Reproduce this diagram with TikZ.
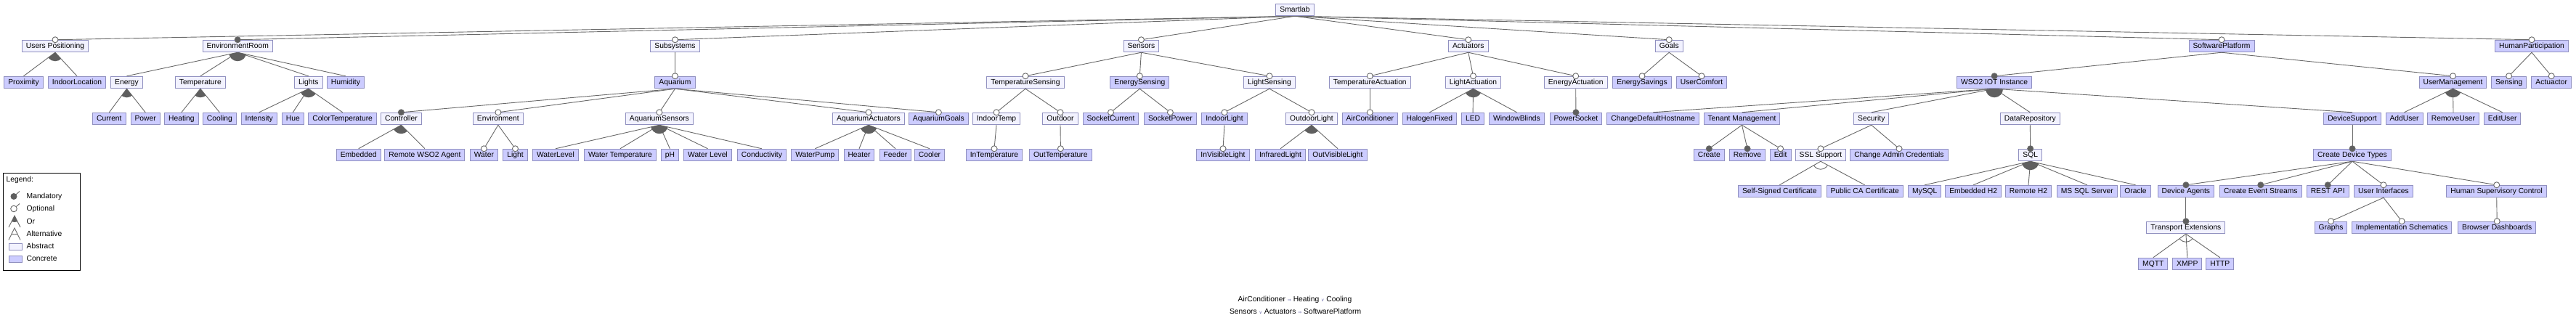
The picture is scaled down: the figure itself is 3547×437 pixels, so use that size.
\documentclass[tikz,border=0pt]{standalone}
\usepackage{fontspec}
\setmainfont{Liberation Sans}
\newfontfamily\symfont{DejaVu Sans}
\usepackage{tikz}
\usetikzlibrary{backgrounds}
\definecolor{fmconcrete}{RGB}{204,204,255}
\definecolor{fmabstract}{RGB}{242,242,255}
\definecolor{fmborder}{RGB}{144,144,192}
\definecolor{fmgray}{RGB}{105,105,105}
\definecolor{fmdark}{RGB}{95,95,95}
\definecolor{fmsym}{RGB}{110,110,170}

% feature model connectors
\newcommand{\fmline}[2]{\begin{pgfonlayer}{background}\draw[fm line] (#1.south) -- (#2.north);\end{pgfonlayer}}
\newcommand{\optlink}[2]{\fmline{#1}{#2}\filldraw[fm line, fill=white] (#2.north) circle (4pt);}
\newcommand{\mandlink}[2]{\fmline{#1}{#2}\filldraw[fm line, fill=fmdark] (#2.north) circle (4pt);}
\newcommand{\orgroup}[3]{\begin{pgfonlayer}{background}\begin{scope}
  \clip (#1.south) -- (#2.north) -- (#3.north) -- cycle;
  \fill[fmdark] (#1.south) circle (12pt);\end{scope}\end{pgfonlayer}}
\newcommand{\altgroup}[3]{\begin{pgfonlayer}{background}\begin{scope}
  \clip (#1.south) -- (#2.north) -- (#3.north) -- cycle;
  \draw[fm line] (#1.south) circle (11pt);\end{scope}\end{pgfonlayer}}
\newcommand{\fmimp}{{\symfont\fontsize{6}{6}\selectfont\textcolor{fmsym}{⇒}}}
\newcommand{\fmvee}{{\symfont\fontsize{6}{6}\selectfont\textcolor{fmsym}{∨}}}

\begin{document}
\begin{tikzpicture}[x=1pt, y=-1pt,
  feature/.style={draw=fmborder, line width=1pt, font=\fontsize{10.3}{12}\selectfont,
    minimum height=16.5pt, inner xsep=5.5pt, inner ysep=0pt, text height=7.6pt, text depth=2.2pt},
  abstract feature/.style={feature, fill=fmabstract},
  concrete feature/.style={feature, fill=fmconcrete},
  fm line/.style={draw=fmgray, line width=0.9pt},
  legend text/.style={font=\fontsize{10.3}{12}\selectfont, anchor=west, inner sep=0pt},
]
\begin{pgfonlayer}{background}
  \fill[white] (0,0) rectangle (3547,437);
\end{pgfonlayer}
\useasboundingbox (0,0) rectangle (3547,437);

% Root
\node[abstract feature] (root) at (1783,13.5) {Smartlab};

% Level 1
\node[abstract feature] (usrpos)    at (76,63.5)     {Users Positioning};
\node[abstract feature] (envroom)   at (327.2,63.5)  {EnvironmentRoom};
\node[abstract feature] (subsys)    at (929.5,63.5)  {Subsystems};
\node[abstract feature] (sensors)   at (1571.4,63.5) {Sensors};
\node[abstract feature] (actuators) at (2021.8,63.5) {Actuators};
\node[abstract feature] (goals)     at (2298.2,63.5) {Goals};
\node[concrete feature] (swplat)    at (3059,63.5)   {SoftwarePlatform};
\node[concrete feature] (humpart)   at (3486,63.5)   {HumanParticipation};

% Level 2
\node[concrete feature] (prox)      at (32.5,113.5)   {Proximity};
\node[concrete feature] (indloc)    at (106,113.5)    {IndoorLocation};
\node[abstract feature] (energy)    at (174.5,113.5)  {Energy};
\node[abstract feature] (temp)      at (275.9,113.5)  {Temperature};
\node[abstract feature] (lights)    at (424.8,113.5)  {Lights};
\node[concrete feature] (humid)     at (475.9,113.5)  {Humidity};
\node[concrete feature] (aquarium)  at (929.5,113.5)  {Aquarium};
\node[abstract feature] (tsens)     at (1412,113.5)   {TemperatureSensing};
\node[concrete feature] (esens)     at (1569.3,113.5) {EnergySensing};
\node[abstract feature] (lsens)     at (1748,113.5)   {LightSensing};
\node[abstract feature] (tact)      at (1886.3,113.5) {TemperatureActuation};
\node[abstract feature] (lact)      at (2028.5,113.5) {LightActuation};
\node[abstract feature] (eact)      at (2169.7,113.5) {EnergyActuation};
\node[concrete feature] (esave)     at (2261,113.5)   {EnergySavings};
\node[concrete feature] (ucomf)     at (2343,113.5)   {UserComfort};
\node[concrete feature] (wso2)      at (2746.1,113.5) {WSO2 IOT Instance};
\node[concrete feature] (usermgmt)  at (3377.5,113.5) {UserManagement};
\node[concrete feature] (sensing)   at (3454.6,113.5) {Sensing};
\node[concrete feature] (actuactor) at (3513.2,113.5) {Actuactor};

% Level 3
\node[concrete feature] (current)    at (150.4,163.5)  {Current};
\node[concrete feature] (power)      at (200.2,163.5)  {Power};
\node[concrete feature] (heating)    at (249.9,163.5)  {Heating};
\node[concrete feature] (cooling)    at (302.3,163.5)  {Cooling};
\node[concrete feature] (intensity)  at (356.7,163.5)  {Intensity};
\node[concrete feature] (hue)        at (403.3,163.5)  {Hue};
\node[concrete feature] (colortemp)  at (471.7,163.5)  {ColorTemperature};
\node[abstract feature] (controller) at (552.4,163.5)  {Controller};
\node[abstract feature] (environ)    at (685.9,163.5)  {Environment};
\node[abstract feature] (aqsens)     at (907.9,163.5)  {AquariumSensors};
\node[abstract feature] (aqact)      at (1196,163.5)   {AquariumActuators};
\node[concrete feature] (aqgoals)    at (1292.4,163.5) {AquariumGoals};
\node[abstract feature] (indtemp)    at (1372,163.5)   {IndoorTemp};
\node[abstract feature] (outdoor)    at (1460,163.5)   {Outdoor};
\node[concrete feature] (sockcur)    at (1529.5,163.5) {SocketCurrent};
\node[concrete feature] (sockpow)    at (1611.4,163.5) {SocketPower};
\node[concrete feature] (indlight)   at (1686,163.5)   {IndoorLight};
\node[abstract feature] (outlight)   at (1806,163.5)   {OutdoorLight};
\node[concrete feature] (aircon)     at (1886.3,163.5) {AirConditioner};
\node[concrete feature] (halogen)    at (1968.4,163.5) {HalogenFixed};
\node[concrete feature] (led)        at (2028.1,163.5) {LED};
\node[concrete feature] (blinds)     at (2088.5,163.5) {WindowBlinds};
\node[concrete feature] (psocket)    at (2169.9,163.5) {PowerSocket};
\node[concrete feature] (hostname)   at (2276.2,163.5) {ChangeDefaultHostname};
\node[concrete feature] (tenant)     at (2398.5,163.5) {Tenant Management};
\node[abstract feature] (security)   at (2576.8,163.5) {Security};
\node[abstract feature] (datarepo)   at (2795.3,163.5) {DataRepository};
\node[concrete feature] (devsup)     at (3239,163.5)   {DeviceSupport};
\node[concrete feature] (adduser)    at (3310.5,163.5) {AddUser};
\node[concrete feature] (rmuser)     at (3378,163.5)   {RemoveUser};
\node[concrete feature] (edituser)   at (3445.7,163.5) {EditUser};

% Level 4
\node[concrete feature] (embedded)  at (493.7,213.5)  {Embedded};
\node[concrete feature] (remagent)  at (584.9,213.5)  {Remote WSO2 Agent};
\node[concrete feature] (water)     at (666.4,213.5)  {Water};
\node[concrete feature] (light)     at (709.5,213.5)  {Light};
\node[concrete feature] (wlevel)    at (765,213.5)    {WaterLevel};
\node[concrete feature] (wtemp)     at (853.9,213.5)  {Water Temperature};
\node[concrete feature] (ph)        at (922.4,213.5)  {pH};
\node[concrete feature] (wlevel2)   at (974.5,213.5)  {Water Level};
\node[concrete feature] (conduct)   at (1048.9,213.5) {Conductivity};
\node[concrete feature] (wpump)     at (1122.3,213.5) {WaterPump};
\node[concrete feature] (heater)    at (1183,213.5)   {Heater};
\node[concrete feature] (feeder)    at (1233,213.5)   {Feeder};
\node[concrete feature] (cooler)    at (1280,213.5)   {Cooler};
\node[concrete feature] (intemp)    at (1369,213.5)   {InTemperature};
\node[concrete feature] (outtemp)   at (1460.4,213.5) {OutTemperature};
\node[concrete feature] (invis)     at (1684,213.5)   {InVisibleLight};
\node[concrete feature] (infra)     at (1763,213.5)   {InfraredLight};
\node[concrete feature] (outvis)    at (1842,213.5)   {OutVisibleLight};
\node[concrete feature] (create)    at (2353.3,213.5) {Create};
\node[concrete feature] (remove)    at (2406,213.5)   {Remove};
\node[concrete feature] (edit)      at (2451.6,213.5) {Edit};
\node[abstract feature] (ssl)       at (2506.9,213.5) {SSL Support};
\node[concrete feature] (admincred) at (2615,213.5)   {Change Admin Credentials};
\node[abstract feature] (sql)       at (2795.7,213.5) {SQL};
\node[concrete feature] (cdt)       at (3239,213.5)   {Create Device Types};

% Level 5
\node[concrete feature] (selfsigned) at (2450.3,263.5) {Self-Signed Certificate};
\node[concrete feature] (publicca)   at (2567.7,263.5) {Public CA Certificate};
\node[concrete feature] (mysql)      at (2650.2,263.5) {MySQL};
\node[concrete feature] (h2emb)      at (2717.2,263.5) {Embedded H2};
\node[concrete feature] (h2rem)      at (2793,263.5)   {Remote H2};
\node[concrete feature] (mssql)      at (2873.8,263.5) {MS SQL Server};
\node[concrete feature] (oracle)     at (2940.5,263.5) {Oracle};
\node[concrete feature] (devagents)  at (3009.9,263.5) {Device Agents};
\node[concrete feature] (evstreams)  at (3112.8,263.5) {Create Event Streams};
\node[concrete feature] (restapi)    at (3205.2,263.5) {REST API};
\node[concrete feature] (uis)        at (3281.9,263.5) {User Interfaces};
\node[concrete feature] (hsc)        at (3437.7,263.5) {Human Supervisory Control};

% Level 6 and 7
\node[abstract feature] (transport) at (3009.9,313.5) {Transport Extensions};
\node[concrete feature] (graphs)    at (3209.5,313.5) {Graphs};
\node[concrete feature] (implsch)   at (3307.1,313.5) {Implementation Schematics};
\node[concrete feature] (browser)   at (3438.2,313.5) {Browser Dashboards};
\node[concrete feature] (mqtt)      at (2964.8,363.5) {MQTT};
\node[concrete feature] (xmpp)      at (3011.8,363.5) {XMPP};
\node[concrete feature] (http)      at (3056.8,363.5) {HTTP};

% Tree edges
\optlink{root}{usrpos} \mandlink{root}{envroom}
\foreach \ch in {subsys,sensors,actuators,goals,swplat,humpart} {\optlink{root}{\ch}}

\foreach \ch in {prox,indloc} {\fmline{usrpos}{\ch}} \orgroup{usrpos}{prox}{indloc}
\foreach \ch in {energy,temp,lights,humid} {\fmline{envroom}{\ch}} \orgroup{envroom}{energy}{humid}
\foreach \ch in {current,power} {\fmline{energy}{\ch}} \orgroup{energy}{current}{power}
\foreach \ch in {heating,cooling} {\fmline{temp}{\ch}} \orgroup{temp}{heating}{cooling}
\foreach \ch in {intensity,hue,colortemp} {\fmline{lights}{\ch}} \orgroup{lights}{intensity}{colortemp}

\optlink{subsys}{aquarium}
\mandlink{aquarium}{controller}
\foreach \ch in {environ,aqsens,aqact,aqgoals} {\optlink{aquarium}{\ch}}
\foreach \ch in {embedded,remagent} {\fmline{controller}{\ch}} \orgroup{controller}{embedded}{remagent}
\foreach \ch in {water,light} {\optlink{environ}{\ch}}
\foreach \ch in {wlevel,wtemp,ph,wlevel2,conduct} {\fmline{aqsens}{\ch}} \orgroup{aqsens}{wlevel}{conduct}
\foreach \ch in {wpump,heater,feeder,cooler} {\fmline{aqact}{\ch}} \orgroup{aqact}{wpump}{cooler}

\foreach \ch in {tsens,esens,lsens} {\optlink{sensors}{\ch}}
\foreach \ch in {indtemp,outdoor} {\optlink{tsens}{\ch}}
\optlink{indtemp}{intemp} \optlink{outdoor}{outtemp}
\foreach \ch in {sockcur,sockpow} {\optlink{esens}{\ch}}
\foreach \ch in {indlight,outlight} {\optlink{lsens}{\ch}}
\optlink{indlight}{invis}
\foreach \ch in {infra,outvis} {\fmline{outlight}{\ch}} \orgroup{outlight}{infra}{outvis}

\foreach \ch in {tact,lact,eact} {\optlink{actuators}{\ch}}
\optlink{tact}{aircon}
\foreach \ch in {halogen,led,blinds} {\fmline{lact}{\ch}} \orgroup{lact}{halogen}{blinds}
\mandlink{eact}{psocket}
\foreach \ch in {esave,ucomf} {\optlink{goals}{\ch}}

\mandlink{swplat}{wso2} \optlink{swplat}{usermgmt}
\foreach \ch in {hostname,tenant,security,datarepo,devsup} {\fmline{wso2}{\ch}} \orgroup{wso2}{hostname}{devsup}
\mandlink{tenant}{create} \mandlink{tenant}{remove} \optlink{tenant}{edit}
\optlink{security}{ssl} \optlink{security}{admincred}
\foreach \ch in {selfsigned,publicca} {\fmline{ssl}{\ch}} \altgroup{ssl}{selfsigned}{publicca}
\mandlink{datarepo}{sql}
\foreach \ch in {mysql,h2emb,h2rem,mssql,oracle} {\fmline{sql}{\ch}} \orgroup{sql}{mysql}{oracle}
\mandlink{devsup}{cdt}
\foreach \ch in {devagents,evstreams,restapi} {\mandlink{cdt}{\ch}}
\optlink{cdt}{uis} \optlink{cdt}{hsc}
\mandlink{devagents}{transport}
\foreach \ch in {mqtt,xmpp,http} {\fmline{transport}{\ch}} \altgroup{transport}{mqtt}{http}
\optlink{uis}{graphs} \optlink{uis}{implsch} \optlink{hsc}{browser}
\foreach \ch in {adduser,rmuser,edituser} {\fmline{usermgmt}{\ch}} \orgroup{usermgmt}{adduser}{edituser}
\optlink{humpart}{sensing} \optlink{humpart}{actuactor}

% Legend
\draw[line width=0.8pt] (4.5,238.5) rectangle (110,372);
\node[legend text] (legend) at (8.5,248) {Legend:};
\draw[fm line] (19,270.5) -- (27,263.5);
\fill[fmdark] (19,270.5) circle (4.5pt);
\node[legend text] at (36.5,270.7) {Mandatory};
\draw[fm line] (19,287.5) -- (27,280.5);
\filldraw[fm line, fill=white] (19,287.5) circle (4.3pt);
\node[legend text] at (36.5,287.7) {Optional};
\draw[fm line] (12,313) -- (20,297) -- (28,313);
\begin{scope}
  \clip (12,313) -- (20,297) -- (28,313) -- cycle;
  \fill[fmdark] (20,297) circle (9pt);
\end{scope}
\node[legend text] at (36.5,304.7) {Or};
\draw[fm line] (12,330.5) -- (20,314) -- (28,330.5);
\begin{scope}
  \clip (12,330.5) -- (20,314) -- (28,330.5) -- cycle;
  \draw[fm line] (20,314) circle (9pt);
\end{scope}
\node[legend text] at (36.5,321.7) {Alternative};
\draw[draw=fmborder, fill=fmabstract] (12,335.5) rectangle (30.5,344.5);
\node[legend text] at (36.5,338.7) {Abstract};
\draw[draw=fmborder, fill=fmconcrete] (12,352.5) rectangle (30.5,361.5);
\node[legend text] at (36.5,355.7) {Concrete};

% Cross-tree constraints
\node[legend text, anchor=center] (cons1) at (1783,412.7)
  {AirConditioner \fmimp{} Heating \fmvee{} Cooling};
\node[legend text, anchor=center] (cons2) at (1783.6,428.7)
  {Sensors \fmvee{} Actuators \fmimp{} SoftwarePlatform};

\end{tikzpicture}
\end{document}
